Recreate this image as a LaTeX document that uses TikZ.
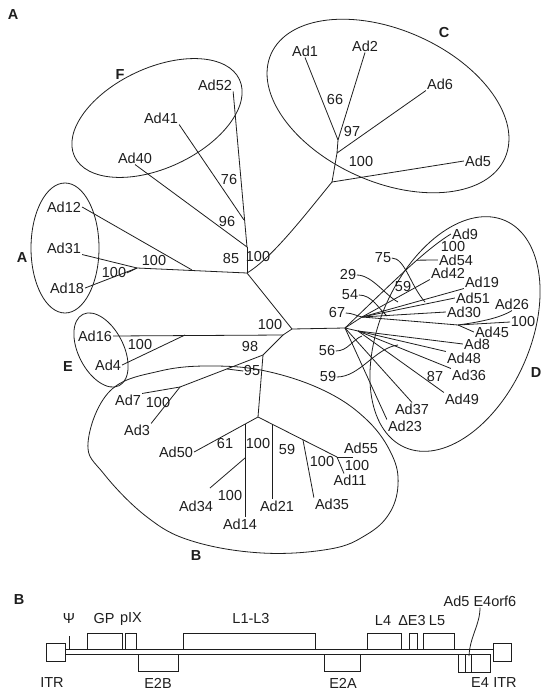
\documentclass[tikz,border=0pt]{standalone}
\usepackage{fontspec}
\setmainfont{Liberation Sans}
\definecolor{scanink}{HTML}{1E1E1E}
\tikzset{
  taxon/.style={inner sep=1pt},
  boot/.style={inner sep=0.5pt},
  clade/.style={inner sep=0pt, font=\fontsize{14.5}{16}\selectfont\bfseries},
  twig/.style={draw=scanink, line width=0.8pt},
  hull/.style={draw=scanink, line width=0.8pt},
  gene/.style={draw=scanink, line width=0.8pt, fill=white},
}
\newcommand{\taxon}[3]{\node[taxon] (#1) at (#2) {#3};}
\newcommand{\boot}[3]{\node[boot] (#1) at (#2) {#3};}

\begin{document}
\begin{tikzpicture}[x=1pt, y=-1pt, font=\fontsize{14.5}{16}\selectfont, text=scanink]
\fill[white] (0,0) rectangle (542,693);
\useasboundingbox (0,0) rectangle (542,693);

\node[clade] (panA) at (13,15) {A};
\node[clade] (panB) at (19,600) {B};

% clade outlines
\draw[hull] (157,118) circle [x radius=91pt, y radius=50pt, rotate=25];
\draw[hull] (388,106) circle [x radius=128pt, y radius=76pt, rotate=-24];
\draw[hull] (65,248) circle [x radius=34pt, y radius=65pt];
\draw[hull] (101,350) circle [x radius=40pt, y radius=22.6pt, rotate=-63];
\draw[hull] (455,334) circle [x radius=124pt, y radius=75pt, rotate=66];
\draw[hull] plot[smooth cycle, tension=0.65] coordinates {(88,443) (110,391) (160,371)
  (215,366) (270,372) (327,392) (368,421) (392,455) (398,485) (389,514) (366,535)
  (330,549) (262,553) (192,541) (147,517) (104,474)};

\node[clade] (cF) at (120,75) {F};
\node[clade] (cC) at (444,33) {C};
\node[clade] (cA) at (22,258) {A};
\node[clade] (cE) at (68,367) {E};
\node[clade] (cD) at (536,373) {D};
\node[clade] (cB) at (196,556) {B};

% inner nodes
\coordinate (n1) at (247,273);
\coordinate (nc) at (292,329);
\coordinate (f1) at (244,220);
\coordinate (f2) at (247,247);
\coordinate (a1) at (137,268);
\coordinate (a2) at (192,270);
\coordinate (c0) at (332,182);
\coordinate (c1) at (337,153);
\coordinate (c2) at (338,140);
\coordinate (e0) at (283,335);
\coordinate (e1) at (185,335);
\coordinate (n98) at (263,355);
\coordinate (b7) at (180,387);
\coordinate (b0) at (258,417);
\coordinate (b1) at (245,424);
\coordinate (b2) at (245,458);
\coordinate (b3) at (272,424);
\coordinate (b4) at (303,440);
\coordinate (b5) at (337,457);
\coordinate (d0) at (345,328);
\coordinate (du) at (362,317);
\coordinate (dl) at (358,331);
\coordinate (d26) at (458,325);
\coordinate (t34) at (210,488);
\coordinate (t55) at (353,457);
\coordinate (p95) at (227,369);
\coordinate (q75) at (425,302);
\coordinate (q29) at (398,302);
\coordinate (q54) at (387,316);
\coordinate (q56) at (362,336);
\coordinate (q59) at (398,345);

% taxa
\taxon{ad52}{215,85}{Ad52}
\taxon{ad41}{161,118}{Ad41}
\taxon{ad40}{135,158}{Ad40}
\taxon{ad12}{64,207}{Ad12}
\taxon{ad31}{64,248}{Ad31}
\taxon{ad18}{67,288}{Ad18}
\taxon{ad1}{305,51}{Ad1}
\taxon{ad2}{365,46}{Ad2}
\taxon{ad6}{440,84}{Ad6}
\taxon{ad5}{478,161}{Ad5}
\taxon{ad16}{95,336}{Ad16}
\taxon{ad4}{108,365}{Ad4}
\taxon{ad7}{128,400}{Ad7}
\taxon{ad3}{137,430}{Ad3}
\taxon{ad50}{176,452}{Ad50}
\taxon{ad34}{196,506}{Ad34}
\taxon{ad14}{240,524}{Ad14}
\taxon{ad21}{277,506}{Ad21}
\taxon{ad35}{332,504}{Ad35}
\taxon{ad55}{361,448}{Ad55}
\taxon{ad11}{350,480}{Ad11}
\taxon{ad9}{465,234}{Ad9}
\taxon{ad54}{456,260}{Ad54}
\taxon{ad42}{448,273}{Ad42}
\taxon{ad19}{482,282}{Ad19}
\taxon{ad51}{473,298}{Ad51}
\taxon{ad30}{464,312}{Ad30}
\taxon{ad26}{512,304}{Ad26}
\taxon{ad45}{492,332}{Ad45}
\taxon{ad8}{477,344}{Ad8}
\taxon{ad48}{464,358}{Ad48}
\taxon{ad36}{469,375}{Ad36}
\taxon{ad49}{462,399}{Ad49}
\taxon{ad37}{412,409}{Ad37}
\taxon{ad23}{405,426}{Ad23}

% bootstrap values
\boot{v76}{229,180}{76}
\boot{v96}{227,222}{96}
\boot{v85}{231,259}{85}
\boot{v100fc}{258,257}{100}
\boot{v100a}{154,261}{100}
\boot{v100r}{114,273}{100}
\boot{v66}{335,100}{66}
\boot{v97}{352,132}{97}
\boot{v100c}{361,162}{100}
\boot{v100e}{140,345}{100}
\boot{v100n}{270,325}{100}
\boot{v98}{250,347}{98}
\boot{v95}{252,371}{95}
\boot{v100b7}{158,403}{100}
\boot{v61}{225,444}{61}
\boot{v100b14}{258,444}{100}
\boot{v100b34}{230,496}{100}
\boot{v59b}{287,450}{59}
\boot{v100b35}{322,462}{100}
\boot{v100b11}{357,466}{100}
\boot{v75}{383,258}{75}
\boot{v29}{348,275}{29}
\boot{v59d}{403,287}{59}
\boot{v54}{350,295}{54}
\boot{v67}{337,313}{67}
\boot{v56}{327,351}{56}
\boot{v59e}{328,377}{59}
\boot{v87}{435,377}{87}
\boot{v100d9}{453,247}{100}
\boot{v100d26}{523,322}{100}

% branches
\draw[twig] (n1) -- (nc);
\draw[twig] (a1) -- (n1);
\draw[twig] (ad31.south east) -- (a1);
\draw[twig] (ad18.east) -- (a1);
\draw[twig] (ad12.east) -- (a2);
\draw[twig] (v100r.east) -- (a1);
\draw[twig] (ad52.south east) -- (f2);
\draw[twig] (ad41.south east) -- (f1);
\draw[twig] (ad40.south) -- (f2);
\draw[twig] (f2) -- (n1);
\draw[twig] (n1) .. controls (272,258) and (305,215) .. (c0);
\draw[twig] (c0) -- (ad5.west);
\draw[twig] (c0) -- (c1) -- (c2);
\draw[twig] (c1) -- (ad6.south west);
\draw[twig] (c2) -- (ad1.south);
\draw[twig] (c2) -- (ad2.south);
\draw[twig] (nc) -- (e0) -- (ad16.east);
\draw[twig] (ad4.east) -- (e1);
\draw[twig] (e0) -- (n98) -- (b7);
\draw[twig] (b7) -- (ad7.north east);
\draw[twig] (b7) -- (ad3.north east);
\draw[twig] (v95.west) -- (p95);
\draw[twig] (n98) -- (b0) -- (ad50.east);
\draw[twig] (b1) -- (b1 |- ad14.north);
\draw[twig] (b2) -- (t34);
\draw[twig] (b0) -- (b5);
\draw[twig] (b3) -- (b3 |- ad21.north);
\draw[twig] (b4) -- (ad35.north west);
\draw[twig] (b5) -- (t55);
\draw[twig] (b5) -- ([xshift=-6pt]ad11.north);
\draw[twig] (nc) -- (d0);
\draw[twig] (d0) .. controls (395,280) and (425,250) .. coordinate[pos=0.6] (d9) (ad9.west);
\draw[twig] (d9) -- (ad54.west);
\draw[twig] (d0) -- (du);
\draw[twig] (d0) -- (dl);
\draw[twig] (du) -- (ad42.south west);
\draw[twig] (du) -- (ad19.south west);
\draw[twig] (du) -- (ad51.west);
\draw[twig] (du) -- (ad30.west);
\draw[twig] (du) -- (d26) -- (ad45.west);
\draw[twig] (d26) .. controls (480,322) and (500,318) .. (ad26.south);
\draw[twig] (v100d26.west) -- (d26);
\draw[twig] (dl) -- (ad8.west);
\draw[twig] (dl) -- (ad48.north west);
\draw[twig] (dl) -- (ad36.north west);
\draw[twig] (dl) -- (ad49.north west);
\draw[twig] (d0) -- (ad37.north);
\draw[twig] (d0) -- (ad23.north west);
\draw[twig] (v75.east) .. controls (405,258) and (410,285) .. (q75);
\draw[twig] (v29.east) .. controls (372,275) and (385,295) .. (q29);
\draw[twig] (v54.east) .. controls (372,295) and (378,308) .. (q54);
\draw[twig] (v67.east) .. controls (352,313) and (357,316) .. (du);
\draw[twig] (v56.east) .. controls (348,351) and (352,340) .. (q56);
\draw[twig] (v59e.east) .. controls (360,377) and (375,348) .. (q59);

% genome map
\draw[twig] (65,649) -- (493,649);
\draw[twig] (65,654) -- (458,654);
\draw[twig] (69,636) -- (69,649);
\draw[gene] (46,643) rectangle (65,661);
\draw[gene] (87,633) rectangle (122,649);
\draw[gene] (125,633) rectangle (136,649);
\draw[gene] (138,654) rectangle (178,671);
\draw[gene] (183,633) rectangle (315,649);
\draw[gene] (324,654) rectangle (360,671);
\draw[gene] (367,633) rectangle (401,649);
\draw[gene] (409,633) rectangle (417,649);
\draw[gene] (423,633) rectangle (454,649);
\draw[gene] (458,654) rectangle (490,672);
\draw[twig] (465,654) -- (465,672);
\draw[twig] (471,654) -- (471,672);
\draw[gene] (493,643) rectangle (511,661);

\node[taxon] (psi) at (69,619) {Ψ};
\node[taxon] (gp) at (104,619) {GP};
\node[taxon] (pix) at (131,619) {pIX};
\node[taxon] (l13) at (251,619) {L1-L3};
\node[taxon] (l4) at (383,621) {L4};
\node[taxon] (de3) at (412,621) {ΔE3};
\node[taxon] (l5) at (437,621) {L5};
\node[taxon] (orf) at (480,601) {Ad5 E4orf6};
\node[taxon] (itrl) at (52,683) {ITR};
\node[taxon] (e2b) at (158,683) {E2B};
\node[taxon] (e2a) at (343,683) {E2A};
\node[taxon] (e4) at (480,683) {E4};
\node[taxon] (itrr) at (505,683) {ITR};
\draw[twig] (orf.south) .. controls (480,625) and (470,636) .. (469,656);
\end{tikzpicture}
\end{document}
